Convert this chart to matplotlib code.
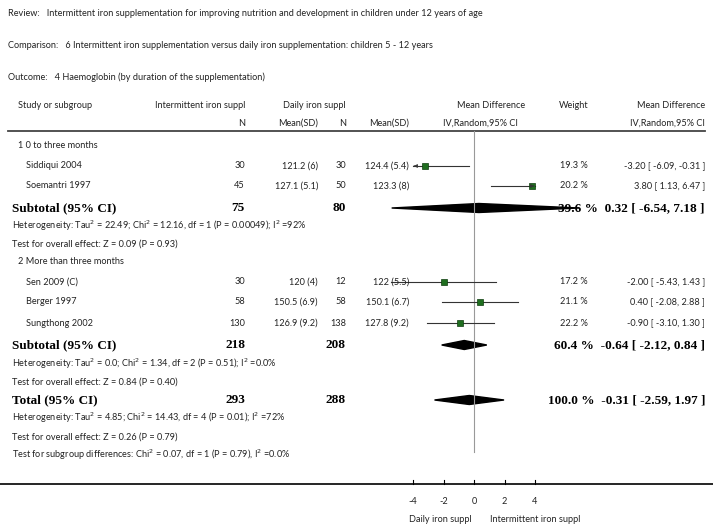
import matplotlib.pyplot as plt
from matplotlib.patches import Polygon

# ---- data ----
studies = ["Siddiqui 2004", "Soemantri 1997", "Sen 2009 (C)", "Berger 1997", "Sungthong 2002"]
int_n = [30, 45, 30, 58, 130]
int_msd = ["121.2 (6)", "127.1 (5.1)", "120 (4)", "150.5 (6.9)", "126.9 (9.2)"]
daily_n = [30, 50, 12, 58, 138]
daily_msd = ["124.4 (5.4)", "123.3 (8)", "122 (5.5)", "150.1 (6.7)", "127.8 (9.2)"]
md = [-3.20, 3.80, -2.00, 0.40, -0.90]
lo = [-6.09, 1.13, -5.43, -2.08, -3.10]
hi = [-0.31, 6.47, 1.43, 2.88, 1.30]
weights = [19.3, 20.2, 17.2, 21.1, 22.2]
clipped = [True, True, False, False, False]

sub_labels = ["Subtotal (95% CI)", "Subtotal (95% CI)", "Total (95% CI)"]
sub_int_n = [75, 218, 293]
sub_daily_n = [80, 208, 288]
sub_md = [0.32, -0.64, -0.31]
sub_lo = [-6.54, -2.12, -2.59]
sub_hi = [7.18, 0.84, 1.97]
sub_w = [39.6, 60.4, 100.0]
ticks = [-4, -2, 0, 2, 4]
diamond_lim = (-5.4, 6.9)

fig = plt.figure(figsize=(7.13, 5.28), dpi=100)
ax = fig.add_axes([0, 0, 1, 1])
ax.set_xlim(0, 713)
ax.set_ylim(528, 0)
ax.axis("off")

F = ["Lato", "DejaVu Sans"]
FS = 6.6
col = "#222222"

def t(x, y, s, ha="left", **kw):
    kw.setdefault("fontsize", FS)
    kw.setdefault("family", F)
    kw.setdefault("color", col)
    ax.text(x, y, s, ha=ha, va="center", **kw)

def bold(x, y, s, ha="left"):
    ax.text(x, y, s, ha=ha, va="center", fontsize=9.5, family="Liberation Serif",
            fontweight="bold", color="black")

X0, SC = 474, 15.25
def px(v):
    return X0 + SC * v

t(8, 13, "Review:   Intermittent iron supplementation for improving nutrition and development in children under 12 years of age")
t(8, 45, "Comparison:   6 Intermittent iron supplementation versus daily iron supplementation: children 5 - 12 years")
t(8, 77, "Outcome:   4 Haemoglobin (by duration of the supplementation)")

# header
t(18, 106, "Study or subgroup")
t(245, 106, "Intermittent iron suppl", ha="right")
t(346, 106, "Daily iron suppl", ha="right")
t(525, 106, "Mean Difference", ha="right")
t(588, 106, "Weight", ha="right")
t(705, 106, "Mean Difference", ha="right")
t(245, 123, "N", ha="right")
t(318, 123, "Mean(SD)", ha="right")
t(346, 123, "N", ha="right")
t(409, 123, "Mean(SD)", ha="right")
t(518, 123, "IV,Random,95% CI", ha="right")
t(705, 123, "IV,Random,95% CI", ha="right")
ax.plot([8, 705], [131, 131], color="#444444", lw=1.3)
ax.plot([X0, X0], [131, 452], color="#999999", lw=0.8)

study_y = [166, 186, 282, 302, 323]
for i, y in enumerate(study_y):
    t(26, y, studies[i])
    t(245, y, str(int_n[i]), ha="right")
    t(318, y, int_msd[i], ha="right")
    t(346, y, str(daily_n[i]), ha="right")
    t(409, y, daily_msd[i], ha="right")
    t(588, y, f"{weights[i]:.1f} %", ha="right")
    t(705, y, f"{md[i]:.2f} [ {lo[i]:.2f}, {hi[i]:.2f} ]", ha="right")
    a, b = lo[i], hi[i]
    if clipped[i]:
        a, b = max(a, -4), min(b, 4)
    ax.plot([px(a), px(b)], [y, y], color="#333333", lw=0.8)
    if clipped[i] and lo[i] < -4:
        ax.annotate("", xy=(px(-4) - 2, y), xytext=(px(-4) + 4, y),
                    arrowprops=dict(arrowstyle="-|>", color="#333333", lw=0.6, mutation_scale=5))
    if clipped[i] and hi[i] > 4:
        ax.annotate("", xy=(px(4) + 2, y), xytext=(px(4) - 4, y),
                    arrowprops=dict(arrowstyle="-|>", color="#333333", lw=0.6, mutation_scale=5))
    ax.plot(px(md[i]), y, "s", color="#1f6e1f", ms=4.2, mec="#0d3d0d", mew=0.5)

t(18, 146, "1 0 to three months")
t(18, 262, "2 More than three months")

sub_y = [208, 345, 400]
for i, y in enumerate(sub_y):
    bold(12, y, sub_labels[i])
    bold(245, y, str(sub_int_n[i]), ha="right")
    bold(346, y, str(sub_daily_n[i]), ha="right")
    ax.text(705, y, f"{sub_w[i]:.1f} %  {sub_md[i]:.2f} [ {sub_lo[i]:.2f}, {sub_hi[i]:.2f} ]",
            ha="right", va="center", fontsize=9.5, family="Liberation Serif", fontweight="bold")
    a = max(sub_lo[i], diamond_lim[0])
    b = min(sub_hi[i], diamond_lim[1])
    ax.add_patch(Polygon([(px(a), y), (px(sub_md[i]), y - 4.5),
                          (px(b), y), (px(sub_md[i]), y + 4.5)],
                         closed=True, color="black"))

t(12, 226, "Heterogeneity: Tau$^2$ = 22.49; Chi$^2$ = 12.16, df = 1 (P = 0.00049); I$^2$ =92%")
t(12, 244, "Test for overall effect: Z = 0.09 (P = 0.93)")
t(12, 364, "Heterogeneity: Tau$^2$ = 0.0; Chi$^2$ = 1.34, df = 2 (P = 0.51); I$^2$ =0.0%")
t(12, 382, "Test for overall effect: Z = 0.84 (P = 0.40)")
t(12, 418, "Heterogeneity: Tau$^2$ = 4.85; Chi$^2$ = 14.43, df = 4 (P = 0.01); I$^2$ =72%")
t(12, 437, "Test for overall effect: Z = 0.26 (P = 0.79)")
t(12, 455, "Test for subgroup differences: Chi$^2$ = 0.07, df = 1 (P = 0.79), I$^2$ =0.0%")

# axis
ax.plot([0, 713], [484, 484], color="black", lw=1.2)
for v in ticks:
    ax.plot([px(v), px(v)], [484, 480], color="black", lw=0.8)
    t(px(v), 501, str(v), ha="center")
t(px(-2.2), 519, "Daily iron suppl", ha="center")
t(px(4.0), 519, "Intermittent iron suppl", ha="center")

fig.savefig("out.png", dpi=100)
